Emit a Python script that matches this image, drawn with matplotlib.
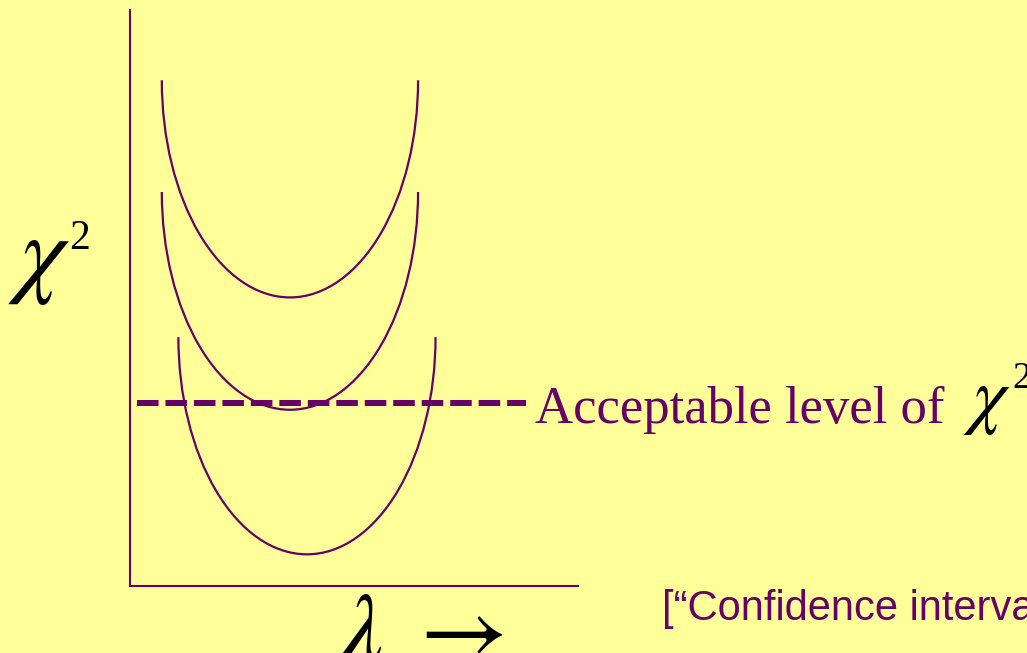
import matplotlib.pyplot as plt
from matplotlib.patches import Arc

plt.rcParams['mathtext.fontset'] = 'stix'
plt.rcParams['lines.scale_dashes'] = False

# curves: centre (lambda), rim height, half width, depth
curve_centre = [3.57, 3.57, 3.95]
curve_top = [8.78, 6.84, 4.32]
curve_halfwidth = [2.86, 2.86, 2.87]
curve_depth = [3.77, 3.78, 3.77]

# acceptable chi2 level
level_y = 3.18
level_x = [0.16, 8.84]

purple = '#660066'
bg = '#FFFF99'

fig = plt.figure(figsize=(10.27, 6.53), dpi=100, facecolor=bg)
ax = fig.add_axes([130 / 1027, 67 / 653, 448 / 1027, 576 / 653])
ax.set_facecolor(bg)
ax.set_xlim(0, 10)
ax.set_ylim(0, 10)

for cx, top, hw, d in zip(curve_centre, curve_top, curve_halfwidth, curve_depth):
    arc = Arc((cx, top), 2 * hw, 2 * d, theta1=180, theta2=360,
              color=purple, lw=1.6, clip_on=False)
    ax.add_patch(arc)

ax.plot(level_x, [level_y, level_y], color=purple, lw=4.3,
        dashes=(15.5, 5), clip_on=False)

for s in ['top', 'right']:
    ax.spines[s].set_visible(False)
for s in ['left', 'bottom']:
    ax.spines[s].set_color(purple)
    ax.spines[s].set_linewidth(1.5)
ax.set_xticks([])
ax.set_yticks([])

def px(x, y):
    return x / 1027, (653 - y) / 653

# texts
fig.text(*px(535, 423), 'Acceptable level of', color=purple,
         family='Liberation Serif', fontsize=38, va='baseline')
fig.text(*px(963, 420), r'$\chi$', color='black', fontsize=54, va='baseline')
fig.text(*px(1012, 388), '2', color='black', family='Liberation Serif',
         fontsize=27, va='baseline')
fig.text(*px(8, 285), r'$\chi$', color='black', fontsize=72, va='baseline')
fig.text(*px(69, 249), '2', color='black', family='Liberation Serif',
         fontsize=30, va='baseline')
fig.text(*px(338, 659), r'$\lambda\ \rightarrow$', color='black',
         fontsize=69, va='baseline')
fig.text(*px(662, 620), '[\u201cConfidence intervals\u201d]',
         color=purple, family='Liberation Sans', fontsize=30, va='baseline')

fig.savefig('out.png', dpi=100, facecolor=bg)
